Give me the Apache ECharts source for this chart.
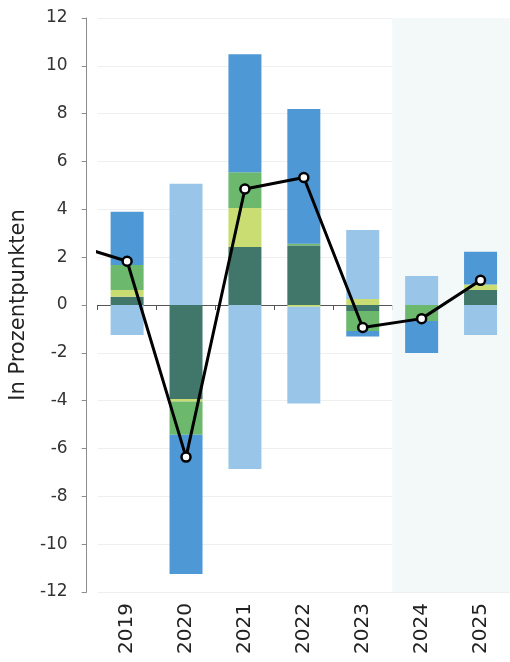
<!DOCTYPE html>
<html>
<head>
<meta charset="utf-8">
<script src="https://cdn.jsdelivr.net/npm/echarts@6/dist/echarts.min.js"></script>
<style>html,body{margin:0;padding:0;background:#fff}#c{width:510px;height:662px}</style>
</head>
<body>
<div id="c"></div>
<script>
var years = [2019, 2020, 2021, 2022, 2023, 2024, 2025];
var lineYears = [2018, 2019, 2020, 2021, 2022, 2023, 2024, 2025];
var darkGreen = [0.35, -3.93, 2.42, 2.49, -0.25, 0, 0.63];
var yellow    = [0.28, -0.11, 1.64, -0.07, 0.25, 0, 0.23];
var green     = [1.04, -1.39, 1.49, 0.07, -0.84, -0.67, 0];
var blue      = [2.23, -5.82, 4.93, 5.63, -0.23, -1.34, 1.37];
var lightBlue = [-1.25, 5.07, -6.86, -4.05, 2.89, 1.21, -1.25];
var total     = [2.59, 1.83, -6.36, 4.85, 5.33, -0.94, -0.57, 1.03];
var yTicks = [-12, 12, 2];
var xRange = [2018.5, 2025.5];
var forecastRange = [2023.5, 2025.5];

var FONT = 'DejaVu Sans';
function pairs(xs, vs) { return vs.map(function (v, i) { return [xs[i], v]; }); }
function barSeries(name, vals, color) {
  return {
    name: name, type: 'bar', stack: 'a', barWidth: 33, xAxisIndex: 0,
    data: vals, itemStyle: { color: color }, z: 3
  };
}

var chart = echarts.init(document.getElementById('c'), null, { renderer: 'canvas' });
chart.setOption({
  animation: false,
  textStyle: { fontFamily: FONT },
  grid: { left: 93, right: 0, top: 18, bottom: 70, containLabel: false },
  xAxis: [{
    type: 'category', data: years.map(String), boundaryGap: true,
    axisLine: { show: true, onZero: true, lineStyle: { color: '#555', width: 1.2 } },
    axisTick: { show: true, length: 5, lineStyle: { color: '#555' } },
    axisLabel: { show: false },
    splitLine: { show: false }
  }, {
    type: 'value', position: 'bottom', min: xRange[0], max: xRange[1],
    axisLine: { show: false, onZero: false },
    axisTick: { show: false },
    axisLabel: { show: true, customValues: years, rotate: 90, fontSize: 20, color: '#222', margin: 11, fontFamily: FONT,
      formatter: function (v) { return String(v); } },
    splitLine: { show: false }
  }],
  yAxis: {
    type: 'value', min: yTicks[0], max: yTicks[1], interval: yTicks[2], offset: 11,
    name: 'In Prozentpunkten', nameLocation: 'middle', nameGap: 45, nameRotate: 90,
    nameTextStyle: { fontSize: 21, color: '#222', fontFamily: FONT },
    axisLine: { show: true, lineStyle: { color: '#8c8c8c', width: 1 } },
    axisTick: { show: true, length: 5, lineStyle: { color: '#8c8c8c' } },
    axisLabel: { fontSize: 17, color: '#333', margin: 19, fontFamily: FONT },
    splitLine: { show: true, lineStyle: { color: '#efefef', width: 1 } }
  },
  series: [
    {
      name: 'Prognose', type: 'line', data: [], xAxisIndex: 1, z: 1,
      markArea: { silent: true, itemStyle: { color: '#f3f9f9' },
        data: [[{ xAxis: forecastRange[0] }, { xAxis: forecastRange[1] }]] }
    },
    barSeries('Komponente A', darkGreen, '#41776a'),
    barSeries('Komponente B', yellow, '#c9dd72'),
    barSeries('Komponente C', green, '#6cb86c'),
    barSeries('Komponente D', blue, '#4f98d6'),
    barSeries('Komponente E', lightBlue, '#99c5e8'),
    {
      name: 'Insgesamt', type: 'line', xAxisIndex: 1, data: pairs(lineYears, total), z: 10,
      clip: true, symbol: 'circle', symbolSize: 9,
      lineStyle: { color: '#000', width: 3 },
      itemStyle: { color: '#fff', borderColor: '#000', borderWidth: 2.5 }
    }
  ]
});
</script>
</body>
</html>
